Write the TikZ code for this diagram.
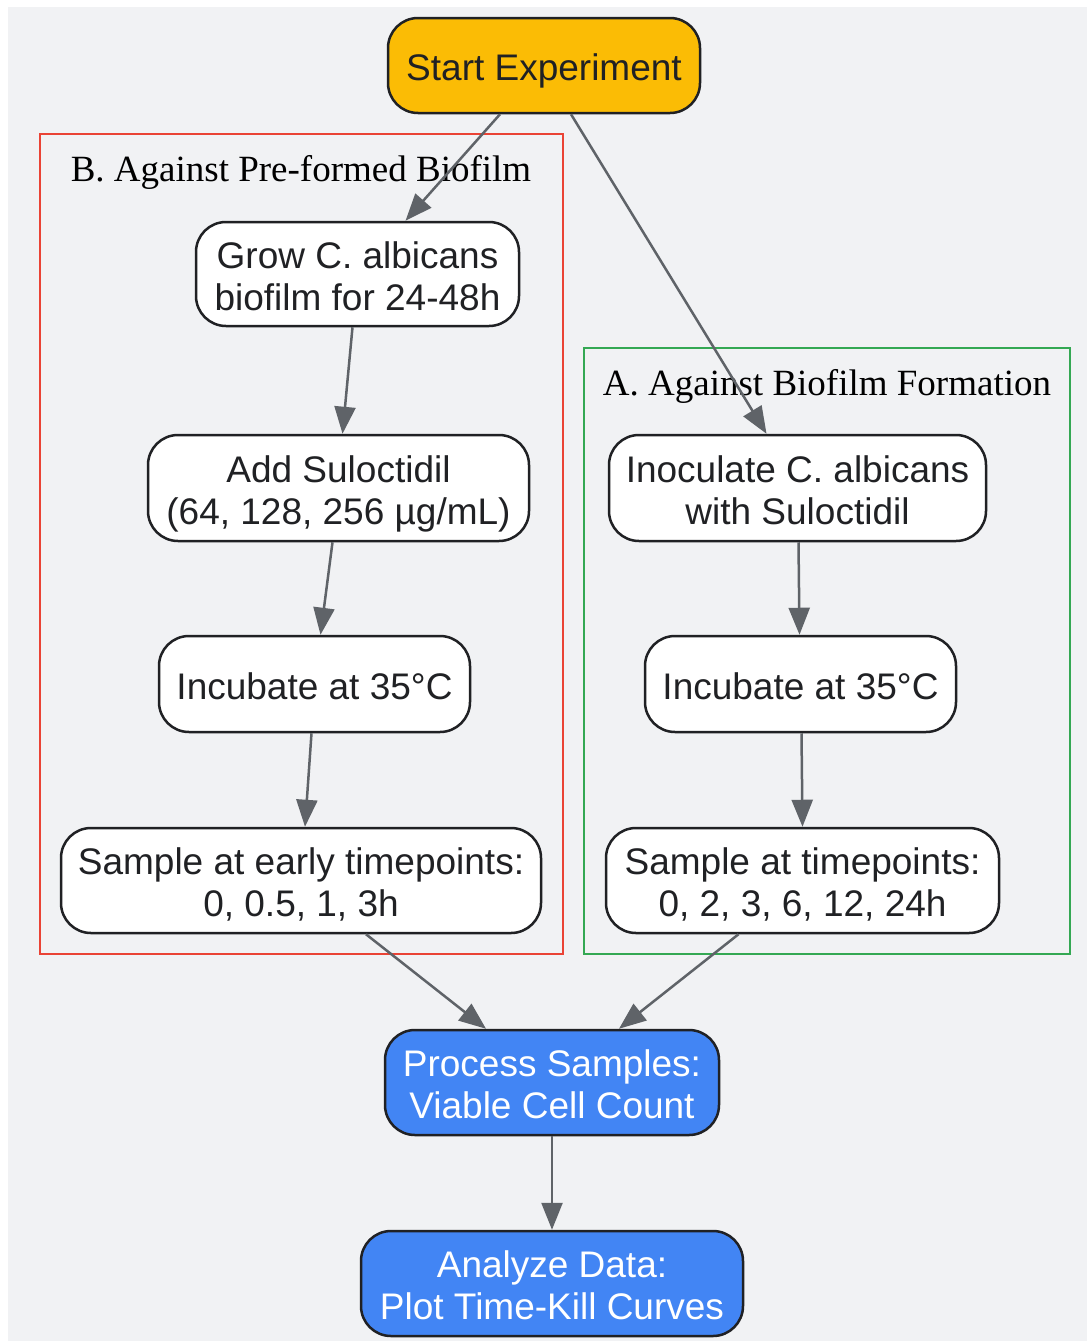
\documentclass[tikz,border=0pt]{standalone}
\usepackage{fontspec}
\setmainfont{Liberation Sans}
\newfontfamily\labelserif{Liberation Serif}
\usetikzlibrary{arrows.meta,calc}
\definecolor{bgc}{HTML}{F1F2F4}
\definecolor{ink}{HTML}{202124}
\definecolor{edgec}{HTML}{5F6368}
\definecolor{startc}{HTML}{FBBC05}
\definecolor{procc}{HTML}{4285F4}
\definecolor{redc}{HTML}{EA4335}
\definecolor{greenc}{HTML}{34A853}
\tikzset{
  box/.style={draw=ink, line width=2.5pt, rounded corners=30pt, fill=white,
    text=ink, align=center, inner sep=0pt,
    text height=30pt, text depth=0pt,
    font=\fontsize{37}{42}\selectfont},
  twoline/.style={text height=72pt, text depth=0pt},
  startbox/.style={box, fill=startc},
  procbox/.style={box, fill=procc, text=white},
  flow/.style={draw=edgec, line width=2.5pt, -{Triangle[length=27pt,width=21pt]}},
  cluster/.style={line width=2.5pt},
  clabel/.style={anchor=base, inner sep=0pt, text=black,
    font=\labelserif\fontsize{37}{42}\selectfont}
}
\begin{document}
\begin{tikzpicture}[x=1pt,y=-1pt]
\useasboundingbox (0,0) rectangle (1087,1341);
\fill[bgc] (8,7) rectangle (1087,1341);

% clusters
\draw[cluster, draw=redc] (40,134) rectangle (563,954);
\node[clabel] (lb) at (301,181) {B. Against Pre-formed Biofilm};
\draw[cluster, draw=greenc] (584,348) rectangle (1070,954);
\node[clabel] (la) at (827,395) {A. Against Biofilm Formation};

% nodes
\node[startbox, minimum width=312pt, minimum height=95pt] (start) at (544,65.5) {Start Experiment};
\node[box, twoline, minimum width=323pt, minimum height=104pt] (grow) at (357.5,274) {Grow C. albicans\\biofilm for 24-48h};
\node[box, twoline, minimum width=381pt, minimum height=106pt] (add) at (338.5,488) {Add Suloctidil\\(64, 128, 256 µg/mL)};
\node[box, minimum width=311pt, minimum height=96pt] (incb) at (314.5,684) {Incubate at 35°C};
\node[box, twoline, minimum width=480pt, minimum height=105pt] (sampb) at (301,880.5) {Sample at early timepoints:\\0, 0.5, 1, 3h};
\node[box, twoline, minimum width=377pt, minimum height=106pt] (inoc) at (797.5,488) {Inoculate C. albicans\\with Suloctidil};
\node[box, minimum width=311pt, minimum height=96pt] (inca) at (800.5,684) {Incubate at 35°C};
\node[box, twoline, minimum width=393pt, minimum height=105pt] (sampa) at (802.5,880.5) {Sample at timepoints:\\0, 2, 3, 6, 12, 24h};
\node[procbox, twoline, minimum width=334pt, minimum height=105pt] (proc) at (552,1082.5) {Process Samples:\\Viable Cell Count};
\node[procbox, twoline, minimum width=382pt, minimum height=105pt] (anal) at (552,1283.5) {Analyze Data:\\Plot Time-Kill Curves};

% edges
\draw[flow] ([xshift=-44pt]start.south) -- ([xshift=48pt]grow.north);
\draw[flow] ([xshift=27pt]start.south) -- ([xshift=-31pt]inoc.north);
\draw[flow] ([xshift=-5pt]grow.south) -- ([xshift=4pt]add.north);
\draw[flow] ([xshift=-6pt]add.south) -- ([xshift=6pt]incb.north);
\draw[flow] ([xshift=-3pt]incb.south) -- ([xshift=4pt]sampb.north);
\draw[flow] ([xshift=1pt]inoc.south) -- ([xshift=-1pt]inca.north);
\draw[flow] ([xshift=1pt]inca.south) -- (sampa.north);
\draw[flow] ([xshift=65pt]sampb.south) -- ([xshift=-66pt]proc.north);
\draw[flow] ([xshift=-64pt]sampa.south) -- ([xshift=67pt]proc.north);
\draw[flow] (proc.south) -- (anal.north);
\end{tikzpicture}
\end{document}
